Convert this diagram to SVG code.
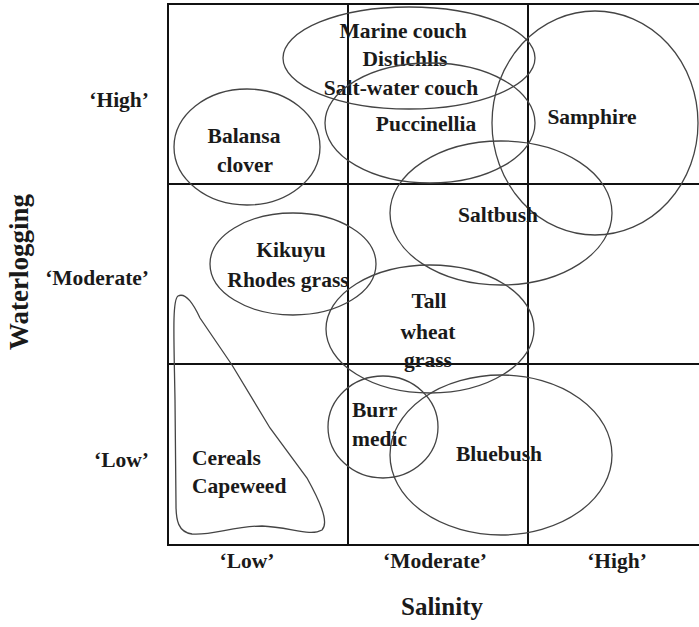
<svg xmlns="http://www.w3.org/2000/svg" width="699" height="627" viewBox="0 0 699 627">
<style>
.grid{fill:none;stroke:#111;stroke-width:2}
.sh{fill:none;stroke:#444;stroke-width:1.3}
text{font-family:"Liberation Serif","Times New Roman",serif;font-weight:bold;fill:#1a1a1a}
.lb{font-size:21.5px}
.c{text-anchor:middle}
.e{text-anchor:end}
.ax{font-size:25px}
.wl{font-size:27px}
</style>
<rect width="699" height="627" fill="#fff"/>
<g id="grid">
<rect class="grid" x="168" y="4" width="545" height="541"/>
<line class="grid" x1="348" y1="4" x2="348" y2="545"/>
<line class="grid" x1="528" y1="4" x2="528" y2="545"/>
<line class="grid" x1="168" y1="184" x2="713" y2="184"/>
<line class="grid" x1="168" y1="364" x2="713" y2="364"/>
</g>
<g id="connectors"></g>
<g id="marine-couch"><ellipse class="sh" cx="409" cy="58" rx="126" ry="51"/>
<text class="lb c" x="403" y="38">Marine couch</text>
<text class="lb c" x="405" y="66">Distichlis</text>
<text class="lb c" x="401" y="95">Salt-water couch</text></g>
<g id="puccinellia"><ellipse class="sh" cx="430" cy="123" rx="105" ry="60"/>
<text class="lb c" x="426" y="131">Puccinellia</text></g>
<g id="samphire"><ellipse class="sh" cx="595" cy="123" rx="103" ry="112"/>
<text class="lb c" x="592" y="124">Samphire</text></g>
<g id="balansa"><ellipse class="sh" cx="247" cy="147" rx="73" ry="58"/>
<text class="lb c" x="244" y="143">Balansa</text>
<text class="lb c" x="245" y="172">clover</text></g>
<g id="saltbush"><ellipse class="sh" cx="501" cy="213" rx="111" ry="72"/>
<text class="lb c" x="498" y="222">Saltbush</text></g>
<g id="kikuyu"><ellipse class="sh" cx="293" cy="264" rx="83" ry="51"/>
<text class="lb c" x="291" y="257">Kikuyu</text>
<text class="lb c" x="288" y="287">Rhodes grass</text></g>
<g id="tall-wheat-grass"><ellipse class="sh" cx="430" cy="329" rx="104" ry="64"/>
<text class="lb c" x="429" y="308">Tall</text>
<text class="lb c" x="428" y="339">wheat</text>
<text class="lb c" x="428" y="367">grass</text></g>
<g id="burr-medic"><ellipse class="sh" cx="383" cy="427" rx="55" ry="51"/>
<text class="lb" x="352" y="417">Burr</text>
<text class="lb" x="352" y="446">medic</text></g>
<g id="bluebush"><ellipse class="sh" cx="501" cy="455" rx="111" ry="80"/>
<text class="lb c" x="499" y="461">Bluebush</text></g>
<g id="cereals"><path class="sh" d="M178,296 C186,292 194,305 200,318 L232,365 L270,428 L307,478 C318,498 330,522 322,530 C310,537 290,527 262,526 C235,526 210,536 192,534 C178,532 176,520 176,505 L175,400 C174,340 172,300 178,296 Z"/>
<text class="lb" x="192" y="465">Cereals</text>
<text class="lb" x="192" y="493">Capeweed</text></g>
<g id="axes">
<text class="lb e" x="149" y="107">‘High’</text>
<text class="lb e" x="149" y="285">‘Moderate’</text>
<text class="lb e" x="149" y="467">‘Low’</text>
<text class="lb c" x="247" y="568">‘Low’</text>
<text class="lb c" x="435" y="568">‘Moderate’</text>
<text class="lb c" x="617" y="568">‘High’</text>
<text class="ax c" x="442" y="615">Salinity</text>
<text class="wl c" transform="translate(28,272) rotate(-90)">Waterlogging</text>
</g>
</svg>
